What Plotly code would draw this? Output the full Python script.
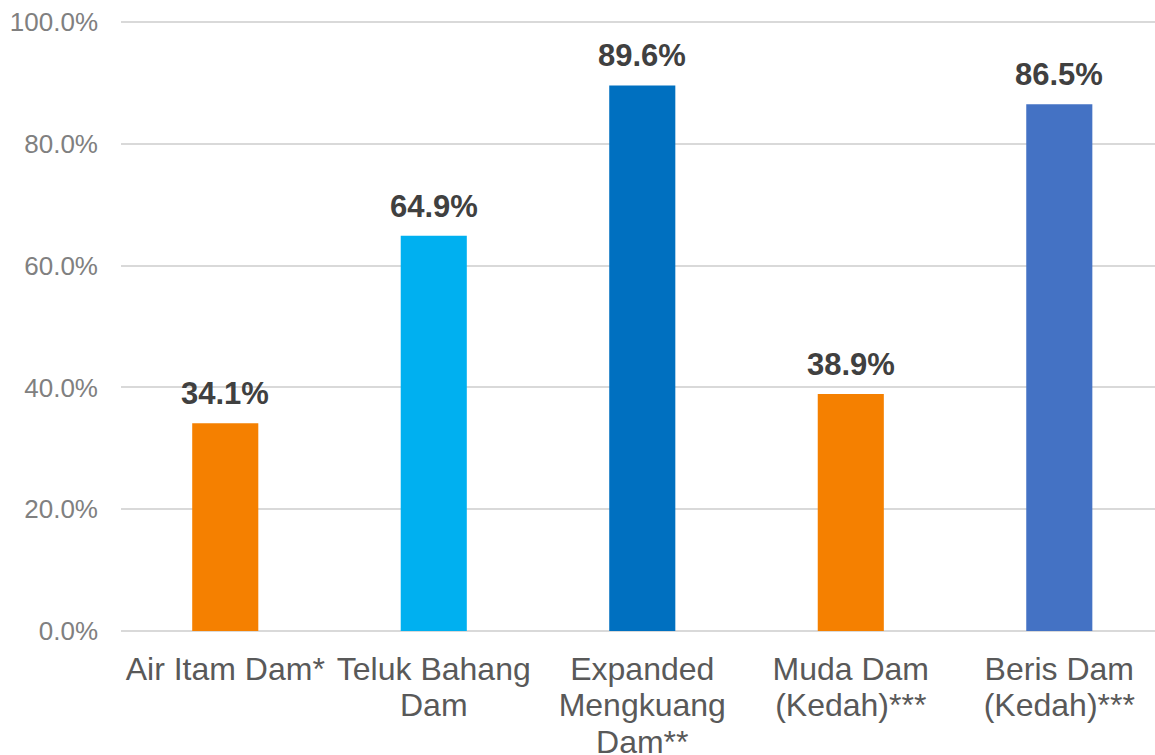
import plotly.graph_objects as go

categories = ["Air Itam Dam*", "Teluk Bahang<br>Dam", "Expanded<br>Mengkuang<br>Dam**",
              "Muda Dam<br>(Kedah)***", "Beris Dam<br>(Kedah)***"]
values = [34.1, 64.9, 89.6, 38.9, 86.5]
colors = ["#F58000", "#00B0F0", "#0070C0", "#F58000", "#4472C4"]
y_ticks = [0, 20, 40, 60, 80, 100]
y_tick_labels = ["0.0%", "20.0%", "40.0%", "60.0%", "80.0%", "100.0%"]

FONT = "Arial, 'Liberation Sans', sans-serif"


def big(label):
    return "<br>".join(f"<span style='font-size:32px'>{p}</span>" for p in label.split("<br>"))


fig = go.Figure()
fig.add_trace(go.Bar(
    x=list(range(len(categories))),
    y=values,
    marker=dict(color=colors, line=dict(width=0)),
    width=0.317,
    hoverinfo="skip",
))

for i, v in enumerate(values):
    fig.add_annotation(
        x=i, y=v, text=f"<b>{v:.1f}%</b>", showarrow=False,
        yanchor="bottom", yshift=10,
        font=dict(family=FONT, size=31, color="#404040"),
    )

fig.update_layout(
    width=1155, height=755,
    margin=dict(l=121, r=0, t=19, b=124, autoexpand=False),
    paper_bgcolor="white", plot_bgcolor="white",
    showlegend=False,
    font=dict(family=FONT),
    xaxis=dict(
        tickmode="array", tickvals=list(range(len(categories))),
        ticktext=[big(c) for c in categories],
        range=[-0.5, 4.459], showgrid=False, zeroline=False, showline=False,
        tickfont=dict(family=FONT, size=28, color="#595959"),
        ticks="", ticklabelstandoff=20, automargin=False,
    ),
    yaxis=dict(
        tickmode="array", tickvals=y_ticks, ticktext=y_tick_labels,
        range=[0, 100.5], showgrid=True, gridcolor="#D9D9D9", gridwidth=1.5,
        zeroline=True, zerolinecolor="#D9D9D9", zerolinewidth=1.5,
        showline=False, automargin=False,
        tickfont=dict(family=FONT, size=26, color="#808080"),
        ticks="", ticklabelstandoff=22,
    ),
)

fig.write_html("out.html", config={"displayModeBar": False},
               post_script="document.body.style.margin='0px';")
